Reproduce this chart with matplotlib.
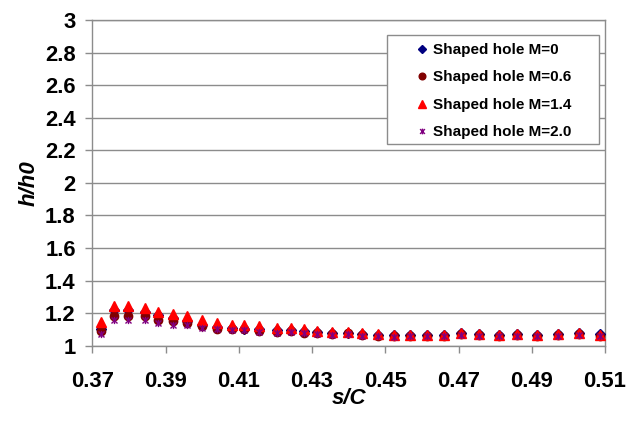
import matplotlib
matplotlib.use("Agg")
import matplotlib.pyplot as plt
from matplotlib.path import Path
from matplotlib.patches import Rectangle
import numpy as np

plt.rcParams['font.family'] = ['Liberation Sans', 'DejaVu Sans']

s_over_c = [0.3723, 0.3759, 0.3798, 0.3844, 0.3880, 0.3921, 0.3959, 0.4000,
            0.4041, 0.4082, 0.4115, 0.4155, 0.4205, 0.4242, 0.4278, 0.4314,
            0.4355, 0.4397, 0.4436, 0.4479, 0.4524, 0.4568, 0.4613, 0.4660,
            0.4708, 0.4757, 0.4810, 0.4861, 0.4915, 0.4971, 0.5028, 0.5086]

m0 = [1.100, 1.220, 1.220, 1.210, 1.190, 1.170, 1.150, 1.130, 1.115, 1.110, 1.105,
      1.100, 1.095, 1.095, 1.090, 1.085, 1.080, 1.080, 1.070, 1.065, 1.065, 1.065,
      1.065, 1.065, 1.075, 1.070, 1.065, 1.070, 1.065, 1.070, 1.075, 1.070]
m06 = [1.090, 1.185, 1.180, 1.180, 1.160, 1.150, 1.140, 1.120, 1.105, 1.100, 1.100,
       1.090, 1.085, 1.090, 1.080, 1.075, 1.072, 1.075, 1.065, 1.060, 1.058, 1.060,
       1.060, 1.060, 1.070, 1.065, 1.060, 1.065, 1.060, 1.065, 1.070, 1.060]
m14 = [1.145, 1.245, 1.245, 1.230, 1.210, 1.195, 1.180, 1.155, 1.140, 1.130, 1.128,
       1.118, 1.108, 1.108, 1.100, 1.093, 1.087, 1.085, 1.075, 1.070, 1.068, 1.068,
       1.068, 1.068, 1.078, 1.072, 1.065, 1.070, 1.065, 1.070, 1.075, 1.065]
m20 = [1.070, 1.160, 1.155, 1.158, 1.140, 1.130, 1.125, 1.110, 1.100, 1.095, 1.095,
       1.085, 1.080, 1.085, 1.075, 1.070, 1.068, 1.070, 1.062, 1.058, 1.055, 1.058,
       1.058, 1.058, 1.068, 1.062, 1.058, 1.062, 1.058, 1.062, 1.068, 1.058]

labels = ["Shaped hole M=0", "Shaped hole M=0.6", "Shaped hole M=1.4", "Shaped hole M=2.0"]
x_ticks = [0.37, 0.39, 0.41, 0.43, 0.45, 0.47, 0.49, 0.51]
y_ticks = [1, 1.2, 1.4, 1.6, 1.8, 2, 2.2, 2.4, 2.6, 2.8, 3]

star = Path([(-1, -1), (1, 1), (-1, 1), (1, -1), (0, -1.2), (0, 1.2)],
            [Path.MOVETO, Path.LINETO, Path.MOVETO, Path.LINETO, Path.MOVETO, Path.LINETO])

fig = plt.figure(figsize=(6.34, 4.23), dpi=100)
W, H = 634, 423
ax = fig.add_axes([92.3 / W, 1 - 345.7 / H, (605 - 92.3) / W, (345.7 - 20) / H])

grid_c = '#8c8c8c'
ax.plot(s_over_c, m0, linestyle='none', marker='D', ms=4.6, color='#000080',
        mec='#000080', label=labels[0], zorder=3)
ax.plot(s_over_c, m06, linestyle='none', marker='o', ms=6.0, color='#800000',
        mec='#800000', label=labels[1], zorder=3)
ax.plot(s_over_c, m14, linestyle='none', marker='^', ms=6.6, color='#ff0000',
        mec='#ff0000', label=labels[2], zorder=3)
ax.plot(s_over_c, m20, linestyle='none', marker=star, ms=5.2, color='#800080',
        mec='#800080', mew=1.0, label=labels[3], zorder=3)

ax.set_xlim(0.37, 0.51)
ax.set_ylim(1, 3)
ax.set_xticks(x_ticks)
ax.set_xticklabels(['%.2f' % v for v in x_ticks])
ax.set_yticks(y_ticks)
ax.set_yticklabels(['%g' % v for v in y_ticks])
ax.yaxis.grid(True, color=grid_c, linewidth=1.0)
ax.set_axisbelow(True)
for sp in ax.spines.values():
    sp.set_color(grid_c)
    sp.set_linewidth(1.0)
ax.tick_params(axis='both', direction='out', length=5, width=1.0, color=grid_c,
               labelsize=15.8)
ax.tick_params(axis='y', pad=7)
ax.tick_params(axis='x', pad=13)
for t in ax.get_xticklabels() + ax.get_yticklabels():
    t.set_fontweight('bold')

ax.set_xlabel('s/C', fontsize=16, fontweight='bold', fontstyle='italic')
ax.set_ylabel('h/h0', fontsize=16, fontweight='bold', fontstyle='italic')
ax.xaxis.set_label_coords(0.5, (345.7 - 388) / 325.7)
ax.yaxis.set_label_coords((40 - 92.3) / 512.7, 0.5)

# legend frame
frame = Rectangle((387 / W, 1 - 144 / H), (599 - 387) / W, (144 - 35) / H,
                  transform=fig.transFigure, facecolor='white',
                  edgecolor=grid_c, linewidth=1.0, zorder=4, clip_on=False)
ax.add_artist(frame)
leg = ax.legend(loc='upper left', bbox_to_anchor=(414.5 / W, 1 - 43 / H),
                bbox_transform=fig.transFigure, frameon=False, borderpad=0,
                borderaxespad=0, handlelength=1.0, handletextpad=0.2,
                labelspacing=0.88, numpoints=1, markerscale=0.8,
                prop={'size': 11, 'weight': 'bold'})
leg.set_zorder(5)

fig.savefig('out.png', dpi=100)
